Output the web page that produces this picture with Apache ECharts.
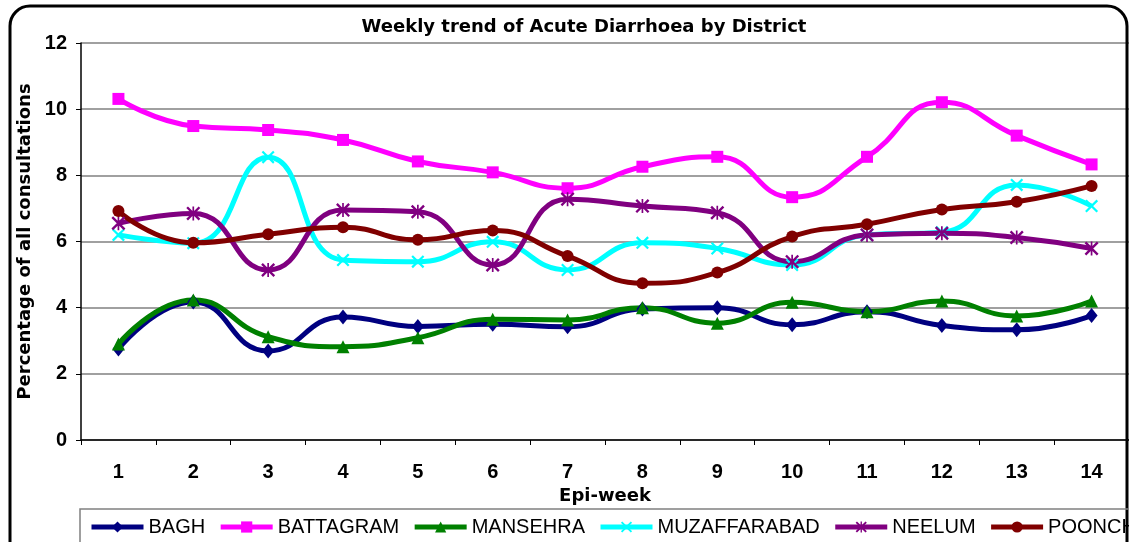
<!DOCTYPE html>
<html>
<head>
<meta charset="utf-8">
<script src="https://cdn.jsdelivr.net/npm/echarts@6/dist/echarts.min.js"></script>
<style>
  html, body { margin: 0; padding: 0; background: #fff; }
  #chart { width: 1129px; height: 542px; }
</style>
</head>
<body>
<div id="chart"></div>
<script>
const weeks = ["1", "2", "3", "4", "5", "6", "7", "8", "9", "10", "11", "12", "13", "14"];
const yTicks = [0, 2, 4, 6, 8, 10, 12];

const bagh = [2.75, 4.17, 2.69, 3.72, 3.43, 3.5, 3.42, 3.96, 4.0, 3.48, 3.88, 3.46, 3.33, 3.76];
const battagram = [10.31, 9.49, 9.37, 9.07, 8.42, 8.09, 7.61, 8.26, 8.56, 7.34, 8.56, 10.21, 9.2, 8.33];
const mansehra = [2.9, 4.23, 3.12, 2.82, 3.09, 3.65, 3.63, 4.0, 3.53, 4.16, 3.88, 4.2, 3.75, 4.2];
const muzaffarabad = [6.2, 5.95, 8.55, 5.44, 5.39, 5.99, 5.14, 5.96, 5.79, 5.29, 6.2, 6.28, 7.71, 7.07];
const neelum = [6.55, 6.85, 5.14, 6.95, 6.9, 5.29, 7.28, 7.07, 6.87, 5.39, 6.2, 6.25, 6.12, 5.79];
const poonch = [6.92, 5.96, 6.22, 6.43, 6.05, 6.33, 5.56, 4.74, 5.06, 6.15, 6.52, 6.97, 7.2, 7.68];

const crossSymbol = "path://M0,1.2 L1.2,0 L10,8.8 L8.8,10 Z M8.8,0 L10,1.2 L1.2,10 L0,8.8 Z";
const starSymbol = "path://M0,1.2 L1.2,0 L10,8.8 L8.8,10 Z M8.8,0 L10,1.2 L1.2,10 L0,8.8 Z M4.4,0 L5.6,0 L5.6,10 L4.4,10 Z";

const chart = echarts.init(document.getElementById("chart"));

function makeSeries(name, data, color, symbol, size) {
  return {
    name: name,
    type: "line",
    data: data,
    smooth: 0.5,
    symbol: symbol,
    symbolSize: size,
    showAllSymbol: true,
    lineStyle: { color: color, width: 5 },
    itemStyle: { color: color, borderWidth: 0 },
    emphasis: { disabled: true },
  };
}

const option = {
  animation: false,
  backgroundColor: "#fff",
  title: {
    text: "Weekly trend of Acute Diarrhoea by District",
    left: 579,
    top: 13,
    textAlign: "center",
    textStyle: {
      fontFamily: "DejaVu Sans",
      fontWeight: "bold",
      fontSize: 18,
      color: "#000",
    },
  },
  grid: { left: 81, top: 43, width: 1050, height: 397 },
  legend: {
    left: 84,
    top: 512,
    width: 1300,
    itemWidth: 52,
    itemHeight: 14,
    itemGap: 13,
    lineStyle: { width: 5 },
    textStyle: { fontFamily: "Liberation Sans", fontSize: 20, color: "#000" },
    data: ["BAGH", "BATTAGRAM", "MANSEHRA", "MUZAFFARABAD", "NEELUM", "POONCH"],
  },
  xAxis: {
    type: "category",
    data: weeks,
    boundaryGap: true,
    name: "Epi-week",
    nameLocation: "middle",
    nameGap: 44,
    nameTextStyle: {
      fontFamily: "DejaVu Sans",
      fontWeight: "bold",
      fontSize: 18,
      color: "#000",
    },
    axisLine: { lineStyle: { color: "#000", width: 1.5 } },
    axisTick: { show: true, length: 5, lineStyle: { color: "#000" } },
    axisLabel: {
      margin: 22,
      fontFamily: "Liberation Sans",
      fontWeight: "bold",
      fontSize: 20,
      color: "#000",
    },
    splitLine: { show: false },
  },
  yAxis: {
    type: "value",
    min: yTicks[0],
    max: yTicks[yTicks.length - 1],
    interval: 2,
    name: "Percentage of all consultations",
    nameLocation: "middle",
    nameGap: 42,
    nameTextStyle: {
      fontFamily: "DejaVu Sans",
      fontWeight: "bold",
      fontSize: 18,
      color: "#000",
    },
    axisLine: { show: true, lineStyle: { color: "#000", width: 1.5 } },
    axisTick: { show: true, length: 5, lineStyle: { color: "#000" } },
    axisLabel: {
      margin: 14,
      fontFamily: "Liberation Sans",
      fontWeight: "bold",
      fontSize: 20,
      color: "#000",
    },
    splitLine: { show: true, lineStyle: { color: "#808080", width: 1.5 } },
  },
  graphic: [
    {
      type: "rect",
      shape: { x: 10, y: 6, width: 1117, height: 560, r: 20 },
      style: { fill: null, stroke: "#000", lineWidth: 3 },
      z: 100,
      silent: true,
    },
    {
      type: "rect",
      shape: { x: 80, y: 509, width: 1100, height: 60 },
      style: { fill: null, stroke: "#808080", lineWidth: 1.5 },
      z: 100,
      silent: true,
    },
  ],
  series: [
    makeSeries("BAGH", bagh, "#000080", "diamond", [12, 15]),
    makeSeries("BATTAGRAM", battagram, "#FF00FF", "rect", 12),
    makeSeries("MANSEHRA", mansehra, "#008000", "triangle", 13),
    makeSeries("MUZAFFARABAD", muzaffarabad, "#00FFFF", crossSymbol, 13),
    makeSeries("NEELUM", neelum, "#800080", starSymbol, 14),
    makeSeries("POONCH", poonch, "#800000", "circle", 12),
  ],
};

chart.setOption(option);
</script>
</body>
</html>
